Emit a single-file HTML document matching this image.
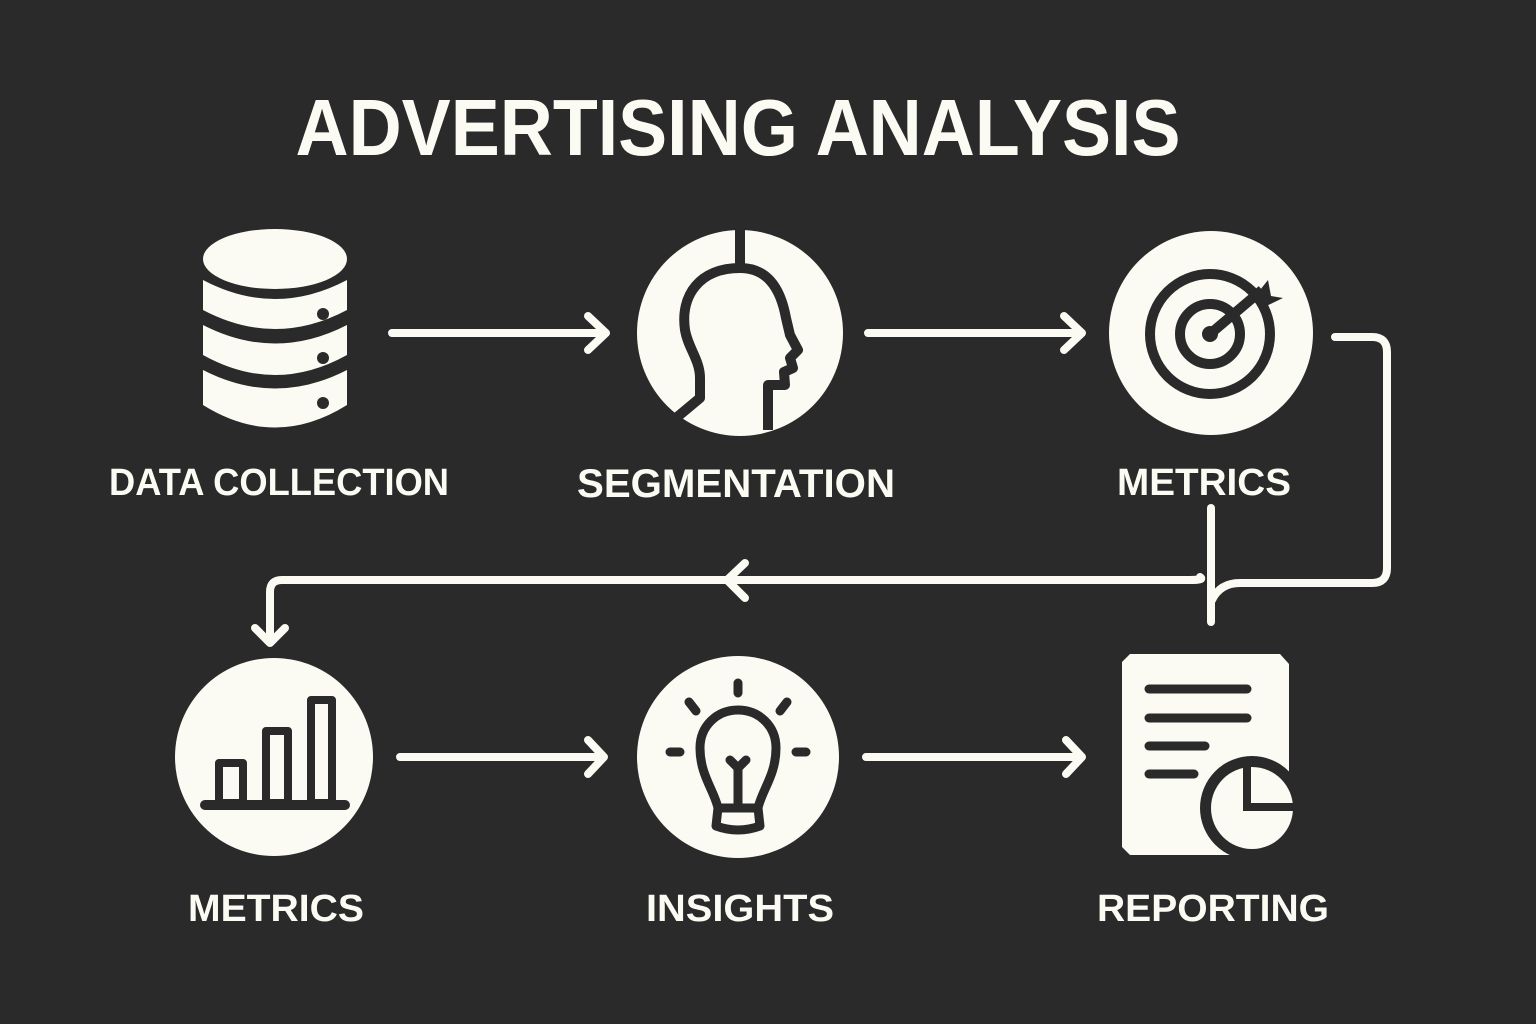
<!DOCTYPE html>
<html><head><meta charset="utf-8"><style>
html,body{margin:0;padding:0;background:#2a2a2a;}
svg{display:block;}
text{font-family:"Liberation Sans","DejaVu Sans",sans-serif;font-weight:bold;fill:#fbfbf4;}
</style></head><body>
<svg width="1536" height="1024" viewBox="0 0 1536 1024">
<rect width="1536" height="1024" fill="#2a2a2a"/>
<text x="738" y="155" font-size="80" text-anchor="middle" textLength="885" lengthAdjust="spacingAndGlyphs">ADVERTISING ANALYSIS</text>

<!-- database -->
<g fill="#fbfbf4">
<ellipse cx="275" cy="259" rx="72" ry="30"/>
<path d="M203 280 Q275 318 347 280 L347 310 Q275 348 203 310 Z"/>
<path d="M203 325 Q275 362 347 325 L347 355 Q275 395 203 355 Z"/>
<path d="M203 370 Q275 407 347 370 L347 405 Q275 450 203 405 Z"/>
</g>
<g fill="#2a2a2a"><circle cx="323" cy="314" r="6"/><circle cx="323" cy="358" r="6"/><circle cx="323" cy="403" r="6"/></g>

<!-- segmentation -->
<circle cx="740" cy="333" r="103" fill="#fbfbf4"/>
<path d="M740 230 L740 268 M740 268 C700 268 680 295 685 330 C688 348 700 360 700 378 L700 398 L676 418 M768 430 L768 385 L785 385 L784 372 L793 368 L790 358 L798 350 L790 335 L786 318 C780 285 765 268 740 268" fill="none" stroke="#2a2a2a" stroke-width="10" stroke-linejoin="round"/>

<!-- target -->
<circle cx="1211" cy="333" r="102" fill="#fbfbf4"/>
<g fill="none" stroke="#2a2a2a" stroke-width="10">
<circle cx="1210" cy="334" r="60"/><circle cx="1210" cy="334" r="30"/>
<path d="M1210 334 L1262 290"/>
</g>
<circle cx="1210" cy="334" r="8" fill="#2a2a2a"/>
<path d="M1268 280 L1271 296 L1283 298 L1262 308 L1252 300 Z" fill="#2a2a2a"/>

<!-- bar chart -->
<circle cx="274" cy="757" r="99" fill="#fbfbf4"/>
<g fill="none" stroke="#2a2a2a" stroke-width="8" stroke-linejoin="round">
<rect x="219" y="763" width="24" height="40"/>
<rect x="266" y="731" width="22" height="72"/>
<rect x="311" y="700" width="21" height="103"/>
</g>
<line x1="205" y1="805" x2="345" y2="805" stroke="#2a2a2a" stroke-width="10" stroke-linecap="round"/>

<!-- bulb -->
<circle cx="738" cy="757" r="101" fill="#fbfbf4"/>
<g fill="none" stroke="#2a2a2a" stroke-width="9" stroke-linecap="round" stroke-linejoin="round">
<path d="M738 683 L738 693 M689 702 L696 711 M787 702 L780 711 M670 752 L680 752 M796 752 L806 752"/>
<path d="M718 808 C714 790 700 775 700 748 C700 726 717 710 738 710 C759 710 776 726 776 748 C776 775 762 790 758 808 Z"/>
<path d="M718 808 L716 826 Q738 834 760 826 L758 808"/>
<path d="M738 808 L738 768 M730 760 L738 768 L746 760"/>
</g>

<!-- report -->
<path d="M1130 654 L1280 654 L1289 664 L1289 835 L1265 855 L1130 855 L1122 847 L1122 662 Z" fill="#fbfbf4"/>
<g stroke="#2a2a2a" stroke-width="9" stroke-linecap="round">
<line x1="1149" y1="689" x2="1247" y2="689"/><line x1="1149" y1="718" x2="1247" y2="718"/>
<line x1="1149" y1="746" x2="1205" y2="746"/><line x1="1149" y1="774" x2="1194" y2="774"/>
</g>
<circle cx="1252" cy="808" r="52" fill="#2a2a2a"/>
<circle cx="1252" cy="808" r="41" fill="#fbfbf4"/>
<path d="M1247 765 L1247 807 L1294 807" fill="none" stroke="#2a2a2a" stroke-width="8"/>

<!-- arrows -->
<g fill="none" stroke="#fbfbf4" stroke-width="8" stroke-linecap="round" stroke-linejoin="round">
<path d="M392 333 L606 333 M588 316 L606 333 L588 350"/>
<path d="M868 333 L1082 333 M1064 316 L1082 333 L1064 350"/>
<path d="M400 757 L604 757 M588 740 L604 757 L588 774"/>
<path d="M866 757 L1082 757 M1066 740 L1082 757 L1066 774"/>
<path d="M1335 337 L1372 337 Q1387 337 1387 352 L1387 568 Q1387 583 1372 583 L1240 583 Q1220 583 1212 600"/>
<path d="M1200 577 Q1205 580 1190 580 L282 580 Q270 580 270 592 L270 643 M255 628 L270 643 L285 628"/>
<path d="M745 563 L727 580 L745 598"/>
<path d="M1211 508 L1211 622"/>
</g>

<!-- labels -->
<text x="279" y="495" font-size="38" text-anchor="middle" textLength="340" lengthAdjust="spacingAndGlyphs">DATA COLLECTION</text>
<text x="736" y="497" font-size="40" text-anchor="middle" textLength="318" lengthAdjust="spacingAndGlyphs">SEGMENTATION</text>
<text x="1204" y="495" font-size="38" text-anchor="middle" textLength="174" lengthAdjust="spacingAndGlyphs">METRICS</text>
<text x="276" y="921" font-size="38" text-anchor="middle" textLength="176" lengthAdjust="spacingAndGlyphs">METRICS</text>
<text x="740" y="921" font-size="38" text-anchor="middle" textLength="188" lengthAdjust="spacingAndGlyphs">INSIGHTS</text>
<text x="1213" y="921" font-size="38" text-anchor="middle" textLength="232" lengthAdjust="spacingAndGlyphs">REPORTING</text>
</svg>
</body></html>
